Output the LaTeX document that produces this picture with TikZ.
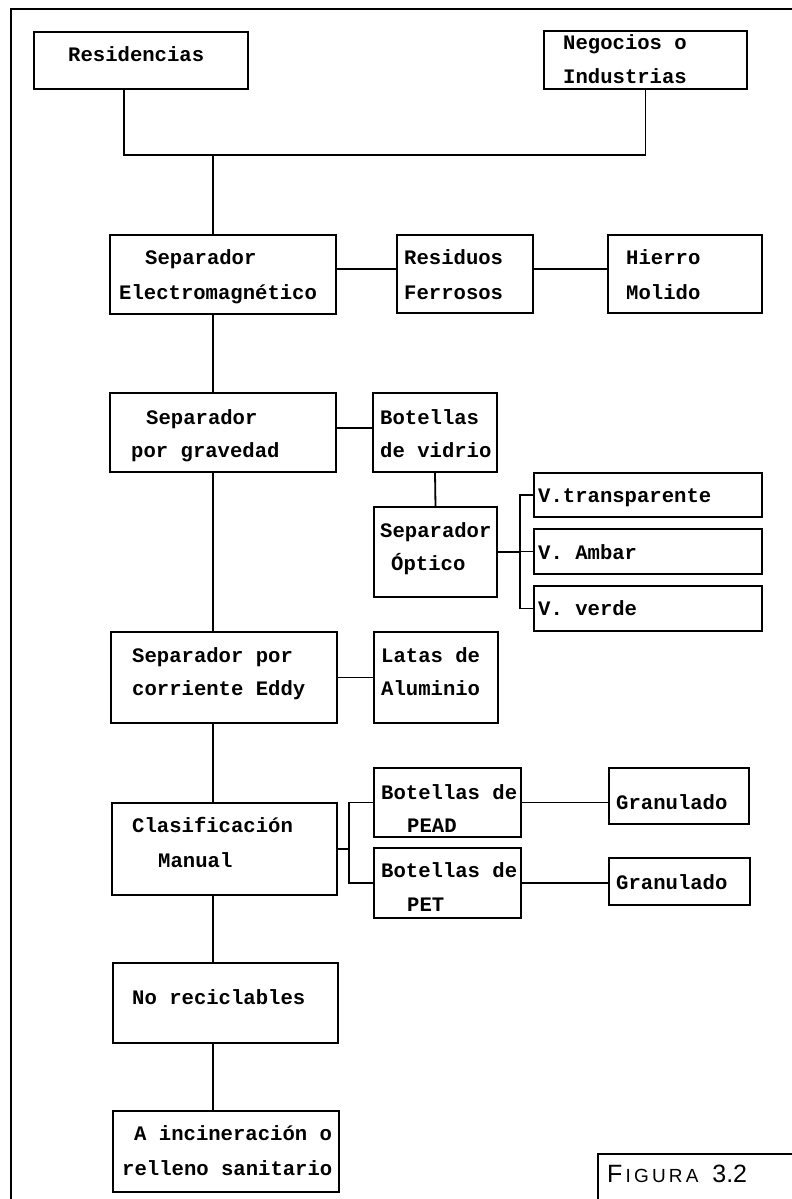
\documentclass[tikz,border=0pt]{standalone}
\usepackage{fontspec}
\setmonofont{Liberation Mono}
\newfontfamily\figfont{Liberation Sans}
\begin{document}
\begin{tikzpicture}[x=1pt,y=-1pt,
  box/.style={draw, line width=2.1pt, inner sep=0pt, outer sep=0pt},
  txt/.style={anchor=base west, inner sep=0pt, font=\ttfamily\bfseries\fontsize{20.6}{26}\selectfont},
  link/.style={line width=1.8pt},
  frameline/.style={line width=2pt}]
\useasboundingbox (0,0) rectangle (792,1199);

% outer frame (open to the right and bottom)
\coordinate (f1) at (11,1199);
\coordinate (f2) at (11,9);
\coordinate (f3) at (792,9);
\draw[frameline] (f1) -- (f2) -- (f3);

% boxes
\node[box, minimum width=214pt, minimum height=57pt] (res)    at (141,60.5)   {};
\node[box, minimum width=203pt, minimum height=58pt] (neg)    at (645.5,60)   {};
\node[box, minimum width=226pt, minimum height=79pt] (sepem)  at (223,274.5)  {};
\node[box, minimum width=136pt, minimum height=78pt] (resf)   at (465,274)    {};
\node[box, minimum width=154pt, minimum height=78pt] (hier)   at (685,274)    {};
\node[box, minimum width=226pt, minimum height=79pt] (sepgr)  at (223,432.5)  {};
\node[box, minimum width=124pt, minimum height=79pt] (vid)    at (435,432.5)  {};
\node[box, minimum width=123pt, minimum height=90pt] (opt)    at (435.5,552)  {};
\node[box, minimum width=228pt, minimum height=44pt] (vtr)    at (648,495)    {};
\node[box, minimum width=228pt, minimum height=45pt] (vam)    at (648,551.5)  {};
\node[box, minimum width=228pt, minimum height=45pt] (vve)    at (648,608.5)  {};
\node[box, minimum width=226pt, minimum height=91pt] (eddy)   at (224,677.5)  {};
\node[box, minimum width=124pt, minimum height=91pt] (latas)  at (436,677.5)  {};
\node[box, minimum width=225pt, minimum height=92pt] (clasif) at (224.5,849)  {};
\node[box, minimum width=147pt, minimum height=69pt] (pead)   at (447.5,802.5){};
\node[box, minimum width=147pt, minimum height=70pt] (pet)    at (447.5,883)  {};
\node[box, minimum width=140pt, minimum height=56pt] (gran1)  at (679,796)    {};
\node[box, minimum width=141pt, minimum height=47pt] (gran2)  at (679.5,881.5){};
\node[box, minimum width=225pt, minimum height=80pt] (norec)  at (225.5,1003) {};
\node[box, minimum width=226pt, minimum height=81pt] (inc)    at (226,1151.5) {};

% box texts
\node[txt] (res-a)    at (68,62)    {Residencias};
\node[txt] (neg-a)    at (563,50)   {Negocios o};
\node[txt] (neg-b)    at (563,84)   {Industrias};
\node[txt] (sepem-a)  at (145,264)  {Separador};
\node[txt] (sepem-b)  at (119,299)  {Electromagnético};
\node[txt] (resf-a)   at (404,264)  {Residuos};
\node[txt] (resf-b)   at (404,299)  {Ferrosos};
\node[txt] (hier-a)   at (626,264)  {Hierro};
\node[txt] (hier-b)   at (626,299)  {Molido};
\node[txt] (sepgr-a)  at (146,424)  {Separador};
\node[txt] (sepgr-b)  at (131,457)  {por gravedad};
\node[txt] (vid-a)    at (380,424)  {Botellas};
\node[txt] (vid-b)    at (380,457)  {de vidrio};
\node[txt] (opt-a)    at (380,537)  {Separador};
\node[txt] (opt-b)    at (391,570)  {Óptico};
\node[txt] (vtr-a)    at (538,502)  {V.transparente};
\node[txt] (vam-a)    at (538,559)  {V. Ambar};
\node[txt] (vve-a)    at (538,615)  {V. verde};
\node[txt] (eddy-a)   at (132,662)  {Separador por};
\node[txt] (eddy-b)   at (132,695)  {corriente Eddy};
\node[txt] (latas-a)  at (381,662)  {Latas de};
\node[txt] (latas-b)  at (381,695)  {Aluminio};
\node[txt] (clasif-a) at (132,832)  {Clasificación};
\node[txt] (clasif-b) at (158,867)  {Manual};
\node[txt] (pead-a)   at (381,799)  {Botellas de};
\node[txt] (pead-b)   at (407,832)  {PEAD};
\node[txt] (pet-a)    at (381,877)  {Botellas de};
\node[txt] (pet-b)    at (407,911)  {PET};
\node[txt] (gran1-a)  at (616,809)  {Granulado};
\node[txt] (gran2-a)  at (616,889)  {Granulado};
\node[txt] (norec-a)  at (132,1004) {No reciclables};
\node[txt] (inc-a)    at (134,1140) {A incineración o};
\node[txt] (inc-b)    at (122,1175) {relleno sanitario};

% helper coordinates for connector routing
\coordinate (rx)    at (124,0);
\coordinate (trunk) at (213,0);
\coordinate (jn)    at (213,155);
\coordinate (h1)    at (0,269);
\coordinate (h2)    at (0,428);
\coordinate (b1)    at (520,0);
\coordinate (b2)    at (349,0);

% sources merge into the main line
\draw[link] (res.south -| rx) -- ++(0,66) -| (neg.south);
\draw[link] (jn) -- (sepem.north -| jn);

% main line
\draw[link] (sepem.south -| trunk)  -- (sepgr.north -| trunk);
\draw[link] (sepgr.south -| trunk)  -- (eddy.north -| trunk);
\draw[link] (eddy.south -| trunk)   -- (clasif.north -| trunk);
\draw[link] (clasif.south -| trunk) -- (norec.north -| trunk);
\draw[link] (norec.south -| trunk)  -- (inc.north -| trunk);

% ferrous branch
\draw[link] (sepem.east |- h1) -- (resf.west |- h1);
\draw[link] (resf.east |- h1)  -- (hier.west |- h1);

% glass branch
\draw[link] (sepgr.east |- h2) -- (vid.west |- h2);
\draw[link] (vid.south) -- (opt.north);
\draw[link] (opt.east) -- (opt.east -| b1);
\draw[link] (vtr.west) -- (vtr.west -| b1) |- (vve.west);
\draw[link] (vam.west) -- (vam.west -| b1);

% aluminium branch
\draw[link] (eddy.east) -- (latas.west);

% plastics branch
\draw[link] (clasif.east) -- (clasif.east -| b2);
\draw[link] (pead.west) -- (pead.west -| b2) |- (pet.west);
\draw[link] (pead.east) -- (pead.east -| gran1.west);
\draw[link] (pet.east)  -- (pet.east -| gran2.west);

% figure caption box
\coordinate (c1) at (598,1199);
\coordinate (c2) at (598,1154);
\coordinate (c3) at (792,1154);
\draw[frameline] (c1) -- (c2) -- (c3);
\node[anchor=base west, inner sep=0pt] (figlabel) at (607,1182)
  {\figfont\fontsize{25}{25}\selectfont F\fontsize{19}{19}\selectfont\,I\,G\,U\,R\,A\fontsize{25}{25}\selectfont\ \ 3.2};
\end{tikzpicture}
\end{document}
